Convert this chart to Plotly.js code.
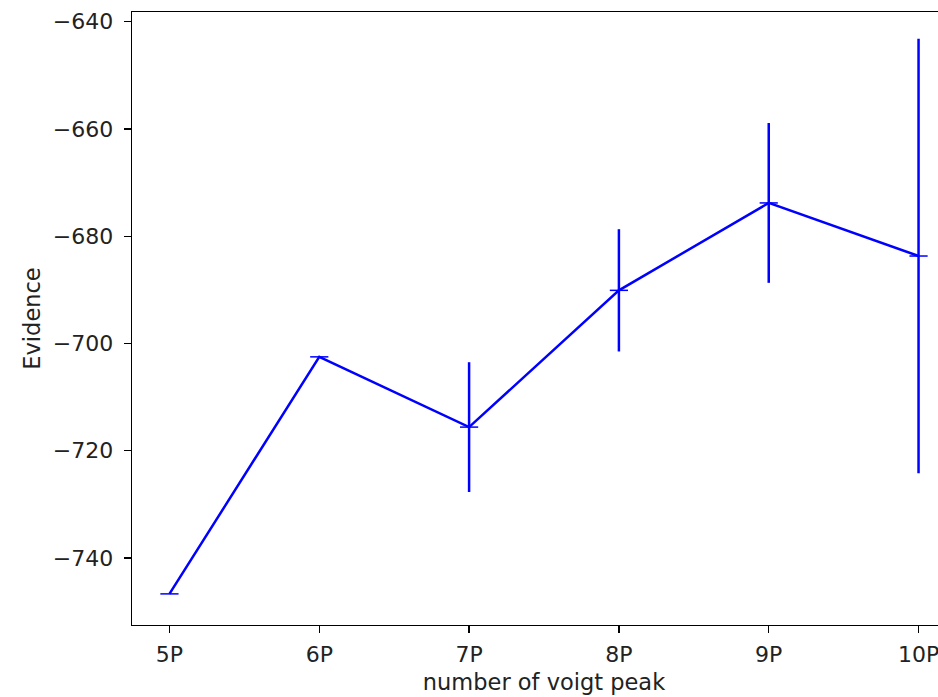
<!DOCTYPE html>
<html>
<head>
<meta charset="utf-8">
<script src="https://cdn.plot.ly/plotly-3.0.1.min.js"></script>
<style>
html, body { margin: 0; padding: 0; overflow: hidden; background: #fff; }
#chart { width: 958px; height: 697px; }
</style>
</head>
<body>
<div id="chart"></div>
<script>
const categories = ["5P", "6P", "7P", "8P", "9P", "10P"];
const evidence = [-746.7, -702.5, -715.6, -690.1, -673.8, -683.7];
const evidenceErr = [0, 0, 12.1, 11.4, 14.9, 40.5];

const xIdx = categories.map((_, i) => i);

const trace = {
  x: xIdx,
  y: evidence,
  type: "scatter",
  mode: "lines+markers",
  line: { color: "#0000ff", width: 2.5 },
  marker: { symbol: "line-ew", size: 13, color: "#0000ff", line: { color: "#0000ff", width: 1.5 } },
  error_y: { type: "data", array: evidenceErr, visible: true, color: "#0000ff", thickness: 2.5, width: 0 },
  showlegend: false
};

const layout = {
  width: 958,
  height: 697,
  margin: { l: 132, r: 2, t: 12, b: 72 },
  paper_bgcolor: "#ffffff",
  plot_bgcolor: "#ffffff",
  font: { family: "DejaVu Sans, sans-serif", color: "#222222", size: 22 },
  xaxis: {
    range: [-0.25, 5.25],
    tickmode: "array",
    tickvals: xIdx,
    ticktext: categories,
    showgrid: false,
    zeroline: false,
    showline: true,
    linecolor: "#000000",
    linewidth: 1.3,
    mirror: true,
    ticks: "outside",
    ticklen: 7,
    tickwidth: 1.2,
    tickcolor: "#000000",
    ticklabelstandoff: 2,
    tickfont: { size: 22 },
    title: { text: "number of voigt peak", font: { size: 22.5 }, standoff: 8 }
  },
  yaxis: {
    range: [-752.5, -638.2],
    tickmode: "array",
    tickvals: [-740, -720, -700, -680, -660, -640],
    ticktext: ["\u2212740", "\u2212720", "\u2212700", "\u2212680", "\u2212660", "\u2212640"],
    showgrid: false,
    zeroline: false,
    showline: true,
    linecolor: "#000000",
    linewidth: 1.3,
    mirror: true,
    ticks: "outside",
    ticklen: 7,
    tickwidth: 1.2,
    tickcolor: "#000000",
    ticklabelstandoff: 6,
    tickfont: { size: 22 },
    title: { text: "Evidence", font: { size: 22.5 }, standoff: 6 }
  }
};

Plotly.newPlot("chart", [trace], layout, { displayModeBar: false, staticPlot: true });
</script>
</body>
</html>
